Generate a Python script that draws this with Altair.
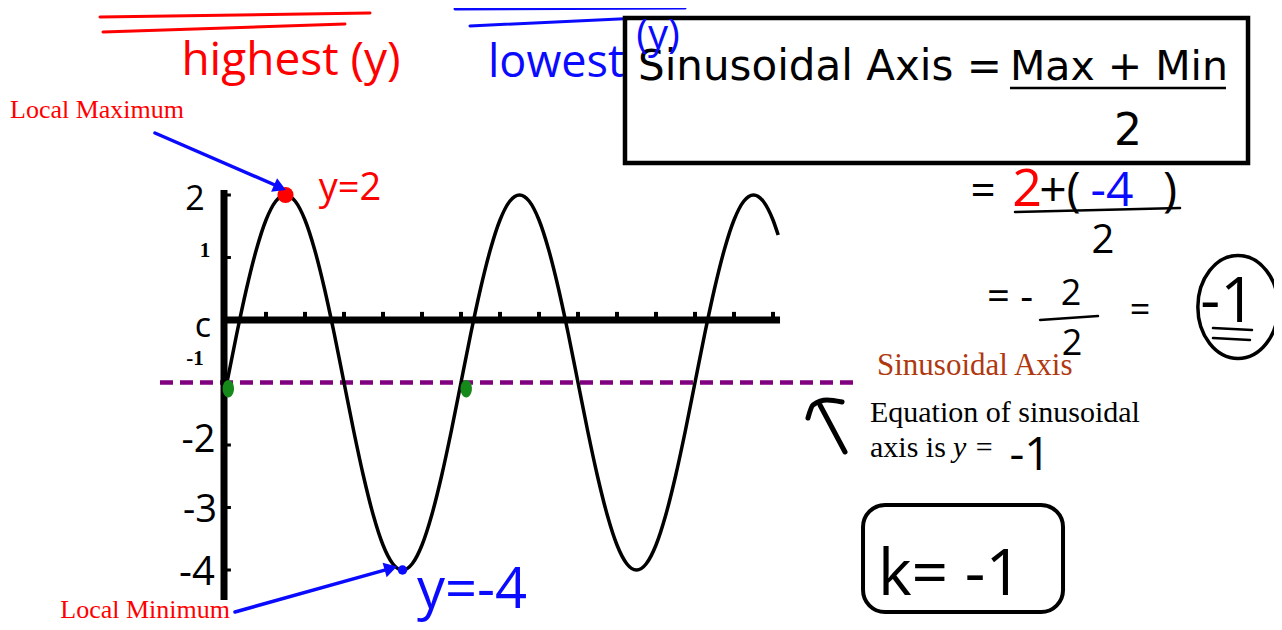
import altair as alt
import pandas as pd

# ---------------- data ----------------
# x in degrees, y in units of the graph
curve_x = [-4, 0, 15, 30, 45, 60, 75, 90, 105, 120, 135, 150, 165, 180, 195, 210, 225, 240,
           255, 270, 285, 300, 315, 330, 345, 360, 375, 390, 405, 420, 435, 450, 465, 480,
           495, 510, 525, 540, 555, 570, 585, 600, 615, 630, 645, 660, 675, 690, 705, 720,
           735, 750, 765, 780, 795, 810, 825, 840, 848]
curve_y = [-1.21, -1.0, -0.22, 0.5, 1.12, 1.6, 1.9, 2.0, 1.9, 1.6, 1.12, 0.5, -0.22, -1.0,
           -1.78, -2.5, -3.12, -3.6, -3.9, -4.0, -3.9, -3.6, -3.12, -2.5, -1.78, -1.0, -0.22,
           0.5, 1.12, 1.6, 1.9, 2.0, 1.9, 1.6, 1.12, 0.5, -0.22, -1.0, -1.78, -2.5, -3.12,
           -3.6, -3.9, -4.0, -3.9, -3.6, -3.12, -2.5, -1.78, -1.0, -0.22, 0.5, 1.12, 1.6,
           1.9, 2.0, 1.9, 1.6, 1.36]
max_x, max_y = [90], [2]
min_x, min_y = [270], [-4]
cross_x, cross_y = [2, 368], [-1.1, -1.1]
sin_axis = -1
y_tick_values = [2, 1, -2, -3, -4]
x_tick_values = [60, 120, 180, 240, 300, 360, 420, 480, 540, 600, 660, 720, 780, 840]

# ---------------- scales ----------------
XS = alt.Scale(domain=[-336.92, 1610.77], nice=False, zero=False)
YS = alt.Scale(domain=[-4.832, 4.992], nice=False, zero=False)

HAND = "Open Sans"
BOX = "DejaVu Sans"
SERIF = "Liberation Serif"
RED, BLUE, GREEN, PURPLE, BROWN = "#ff0000", "#0a0aff", "#15891a", "#800080", "#b0380f"


def X(f="x"):
    return alt.X(f, type="quantitative", scale=XS, axis=None)


def Y(f="y"):
    return alt.Y(f, type="quantitative", scale=YS, axis=None)


layers = []


def seg(x, y, x2, y2, color="black", width=3, dash=None, cap="round"):
    df = pd.DataFrame({"x": [x], "y": [y], "x2": [x2], "y2": [y2]})
    kw = dict(color=color, strokeWidth=width, strokeCap=cap)
    if dash:
        kw["strokeDash"] = dash
    layers.append(alt.Chart(df).mark_rule(**kw).encode(
        x=X(), y=Y(), x2="x2:Q", y2="y2:Q"))


def txt(text, x, y, size, color="black", font=HAND, align="center", weight="normal", style="normal"):
    df = pd.DataFrame({"x": [x], "y": [y], "t": [text]})
    layers.append(alt.Chart(df).mark_text(
        font=font, fontSize=size, color=color, align=align, baseline="alphabetic",
        fontWeight=weight, fontStyle=style).encode(x=X(), y=Y(), text="t:N"))


def head(x, y, angle, color, size=220):
    df = pd.DataFrame({"x": [x], "y": [y]})
    layers.append(alt.Chart(df).mark_point(
        shape="triangle-right", angle=angle, filled=True, color=color, size=size, opacity=1
    ).encode(x=X(), y=Y()))


# ---------------- graph ----------------
# sinusoidal axis (dashed)
seg(-103.1, sin_axis, 973.8, sin_axis, PURPLE, 4.5, [13, 7], cap="butt")

# axes
seg(-4.6, 2.08, -4.6, -4.48, "black", 7, cap="butt")
seg(-4.6, 0, 850.8, 0, "black", 7, cap="butt")
ticks_df = pd.DataFrame({"x": x_tick_values, "y": [0] * len(x_tick_values),
                         "y2": [0.13] * len(x_tick_values)})
layers.append(alt.Chart(ticks_df).mark_rule(color="black", strokeWidth=4).encode(
    x=X(), y=Y(), y2="y2:Q"))
yt_df = pd.DataFrame({"x": [-4.6] * len(y_tick_values), "x2": [6] * len(y_tick_values),
                      "y": y_tick_values})
layers.append(alt.Chart(yt_df).mark_rule(color="black", strokeWidth=3).encode(
    x=X(), x2="x2:Q", y=Y()))

# the curve
curve_df = pd.DataFrame({"x": curve_x, "y": curve_y})
layers.append(alt.Chart(curve_df).mark_line(color="black", strokeWidth=3.5,
                                            interpolate="monotone").encode(x=X(), y=Y()))

# y axis labels
txt("2", -49.2, 1.76, 34)
txt("1", -33.8, 1.008, 21, font=SERIF, weight="bold")
txt("c", -36.9, -0.272, 34)
txt("-1", -49.2, -0.72, 21, font=SERIF, weight="bold")
txt("-2", -44.0, -2.112, 38)
txt("-3", -41.5, -3.232, 38)
txt("-4", -46.2, -4.24, 40)

# special points
ELL = "M -0.66 0 A 0.66 1 0 1 0 0.66 0 A 0.66 1 0 1 0 -0.66 0 Z"
layers.append(alt.Chart(pd.DataFrame({"x": cross_x, "y": cross_y})).mark_point(
    shape=ELL, size=300, filled=True, color=GREEN, opacity=1).encode(x=X(), y=Y()))
layers.append(alt.Chart(pd.DataFrame({"x": max_x, "y": max_y})).mark_point(
    shape="circle", size=260, filled=True, color=RED, opacity=1).encode(x=X(), y=Y()))
layers.append(alt.Chart(pd.DataFrame({"x": min_x, "y": min_y})).mark_point(
    shape="circle", size=90, filled=True, color=BLUE, opacity=1).encode(x=X(), y=Y()))

# local max / min annotations
txt("Local Maximum", -333.85, 3.232, 26, RED, SERIF, align="left")
seg(-110.8, 2.992, 78.0, 2.14, BLUE, 3.5)
head(81.5, 2.12, 23.6, BLUE)
txt("y=2", 189.2, 1.92, 38, RED)

txt("Local Minimum", 4.6, -4.77, 26, RED, SERIF, align="right")
seg(12.3, -4.672, 248.0, -3.985, BLUE, 3.5)
head(252.0, -3.972, 344.3, BLUE)
txt("y=-4", 376.9, -4.608, 56, BLUE)

# ---------------- top handwriting ----------------
seg(-195.4, 4.848, 220.0, 4.912, RED, 3)
seg(-190.8, 4.608, 181.5, 4.736, RED, 3)
txt("highest (y)", 98.5, 3.92, 46, RED)

seg(350.8, 4.976, 704.6, 4.99, BLUE, 3)
seg(373.8, 4.704, 635.4, 4.832, BLUE, 3)
txt("lowest", 506.2, 3.888, 45, BLUE)

# formula box
box_df = pd.DataFrame({"x": [612.3], "x2": [1570.8], "y": [4.832], "y2": [2.512]})
layers.append(alt.Chart(box_df).mark_rect(fillOpacity=0, stroke="black", strokeWidth=4.5).encode(
    x=X(), x2="x2:Q", y=Y(), y2="y2:Q"))
txt("Sinusoidal Axis =", 632.3, 3.84, 42, font=BOX, align="left")
txt("Max + Min", 1204.6, 3.84, 41, font=BOX, align="left")
seg(1204.6, 3.712, 1536.9, 3.712, "black", 2.5, cap="butt")
txt("2", 1386.2, 2.8, 44, font=BOX)
txt("(y)", 663.1, 4.36, 40, BLUE)

# ---------------- working on the right ----------------
txt("=", 1163.1, 1.824, 44)
txt("2", 1230.8, 1.824, 52, RED)
txt("+(", 1281.5, 1.824, 48)
txt("-4", 1361.5, 1.824, 48, BLUE)
txt(")", 1450.8, 1.824, 48)
seg(1212.3, 1.728, 1466.2, 1.792, "black", 2.5)
txt("2", 1347.7, 1.072, 40)

txt("= -", 1204.6, 0.16, 40)
txt("2", 1298.5, 0.24, 36)
seg(1250.8, 0.0, 1340.0, 0.064, "black", 2.5)
txt("2", 1300.0, -0.56, 36)
txt("=", 1404.6, -0.032, 36)
txt("-1", 1540.0, -0.032, 62)
seg(1516.9, -0.128, 1576.9, -0.16, "black", 2.5)
seg(1516.9, -0.288, 1573.8, -0.32, "black", 2.5)
ELL2 = "M -0.78 0 A 0.78 1 0 1 0 0.78 0 A 0.78 1 0 1 0 -0.78 0 Z"
layers.append(alt.Chart(pd.DataFrame({"x": [1555.4], "y": [0.208]})).mark_point(
    shape=ELL2, size=10609, filled=False, color="black", strokeWidth=3.5, opacity=1
).encode(x=X(), y=Y()))

# sinusoidal axis label and equation
txt("Sinusoidal Axis", 1000.0, -0.88, 31, BROWN, SERIF, align="left")
hook_df = pd.DataFrame({
    "x": [893.8, 901.5, 923.1, 946.2, 912.3, 950.8],
    "y": [-1.568, -1.36, -1.28, -1.312, -1.36, -2.112],
    "g": ["a", "a", "a", "a", "b", "b"],
    "o": [0, 1, 2, 3, 0, 1]})
layers.append(alt.Chart(hook_df).mark_line(color="black", strokeWidth=5, strokeCap="round",
                                           strokeJoin="round", interpolate="monotone").encode(
    x=X(), y=Y(), detail="g:N", order="o:Q"))
txt("Equation of sinusoidal", 989.2, -1.632, 30, font=SERIF, align="left")
txt("axis is", 989.2, -2.192, 30, font=SERIF, align="left")
txt("y", 1117.0, -2.192, 30, font=SERIF, align="left", style="italic")
txt("=", 1152.0, -2.192, 30, font=SERIF, align="left")
txt("-1", 1235.4, -2.4, 46)

# k = -1 box
kbox_df = pd.DataFrame({"x": [978.5], "x2": [1286.2], "y": [-2.96], "y2": [-4.672]})
layers.append(alt.Chart(kbox_df).mark_rect(fillOpacity=0, stroke="black", strokeWidth=4,
                                           cornerRadius=22).encode(
    x=X(), x2="x2:Q", y=Y(), y2="y2:Q"))
txt("k= -1", 1112.3, -4.4, 64)

chart = alt.layer(*layers).properties(
    width=1266, height=614, padding=0,
    autosize=alt.AutoSizeParams(type="none"),
).configure_view(stroke=None)

chart.save("out.html", embed_options={"renderer": "svg", "actions": False})
